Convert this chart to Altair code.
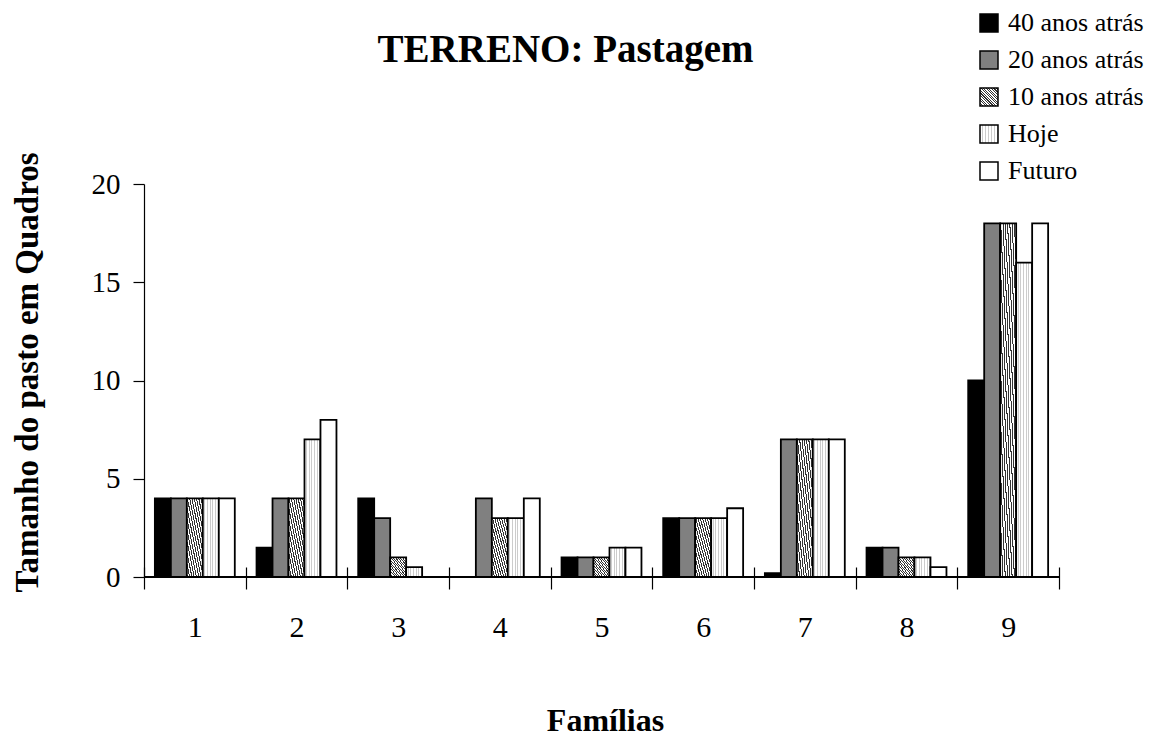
import altair as alt
import pandas as pd

categories = ["1", "2", "3", "4", "5", "6", "7", "8", "9"]
series = ["40 anos atrás", "20 anos atrás", "10 anos atrás", "Hoje", "Futuro"]
v40 = [4, 1.5, 4, 0, 1, 3, 0.2, 1.5, 10]
v20 = [4, 4, 3, 4, 1, 3, 7, 1.5, 18]
v10 = [4, 4, 1, 3, 1, 3, 7, 1, 18]
hoje = [4, 7, 0.5, 3, 1.5, 3, 7, 1, 16]
futuro = [4, 8, 0, 4, 1.5, 3.5, 7, 0.5, 18]
y_ticks = [0, 5, 10, 15, 20]

rows = []
for s, vals in zip(series, [v40, v20, v10, hoje, futuro]):
    for c, v in zip(categories, vals):
        rows.append({"Família": c, "Período": s, "Valor": v})
df = pd.DataFrame(rows)


def stripes(c1, c2, n, x1, y1, x2, y2, frac=0.5):
    stops = []
    for i in range(n):
        a = i / n
        b = (i + frac) / n
        c = (i + 1) / n
        stops += [(a, c1), (b, c1), (b, c2), (c, c2)]
    st = ",".join("{offset:%.4f,color:'%s'}" % (o, col) for o, col in stops)
    return {"expr": "{gradient:'linear',x1:%g,y1:%g,x2:%g,y2:%g,stops:[%s]}" % (x1, y1, x2, y2, st)}


hatch = stripes("#333333", "#ffffff", 14, 0, 1, 1, 0, 0.45)
dots = stripes("#ffffff", "#cccccc", 6, 0, 0, 1, 0, 0.55)

FONT = "Liberation Serif"

bars = alt.Chart(df).mark_bar(stroke="black", strokeWidth=1.8).encode(
    x=alt.X(
        "Família:N",
        sort=categories,
        scale=alt.Scale(paddingInner=0, paddingOuter=0),
        axis=alt.Axis(
            title="Famílias",
            titleFont=FONT, titleFontSize=32, titleFontWeight="bold", titleColor="black",
            titleX=461, titleY=163, titleAlign="center", titleBaseline="alphabetic",
            labelFont=FONT, labelFontSize=30, labelColor="black", labelAngle=0,
            labelBaseline="alphabetic", labelPadding=47,
            tickBand="extent", tickSize=22, tickColor="black", tickWidth=1.2,
            domain=False, offset=-10, grid=False,
        ),
    ),
    xOffset=alt.XOffset("Período:N", sort=series,
                        scale=alt.Scale(paddingOuter=0.68, paddingInner=0)),
    y=alt.Y(
        "Valor:Q",
        scale=alt.Scale(domain=[0, 20], nice=False),
        axis=alt.Axis(
            title="Tamanho do pasto em Quadros",
            titleFont=FONT, titleFontSize=33, titleFontWeight="bold", titleColor="black",
            titleAngle=270, titleX=-107, titleY=188, titleAlign="center", titleBaseline="alphabetic",
            values=y_ticks, labelFont=FONT, labelFontSize=29, labelColor="black",
            labelPadding=13, tickSize=11, tickColor="black", tickWidth=1.2,
            domainColor="black", domainWidth=1.2, grid=False,
        ),
    ),
    color=alt.Color(
        "Período:N",
        sort=series,
        scale=alt.Scale(domain=series, range=["#000000", "#808080", hatch, dots, "#ffffff"]),
        legend=alt.Legend(
            title=None, orient="none", legendX=832, legendY=-174,
            symbolType="square", symbolSize=324, symbolStrokeColor="black",
            symbolStrokeWidth=1.5, symbolOpacity=1,
            labelFont=FONT, labelFontSize=26, labelColor="black", labelOffset=6,
            rowPadding=11, padding=0, labelLimit=300,
        ),
    ),
)

baseline = alt.Chart(df).mark_rule(color="black", strokeWidth=1.2).encode(y=alt.datum(0))

chart = alt.layer(bars, baseline).properties(
    width=915,
    height=393,
    autosize=alt.AutoSizeParams(type="none"),
    padding={"left": 136, "top": 176, "right": 86, "bottom": 159},
    title=alt.TitleParams(
        "TERRENO: Pastagem", font=FONT, fontSize=39, fontWeight="bold", color="black",
        anchor="middle", dx=-36, offset=-91, baseline="alphabetic",
    ),
).configure_view(stroke=None)

chart.save("out.html", embed_options={"renderer": "svg", "actions": False})
